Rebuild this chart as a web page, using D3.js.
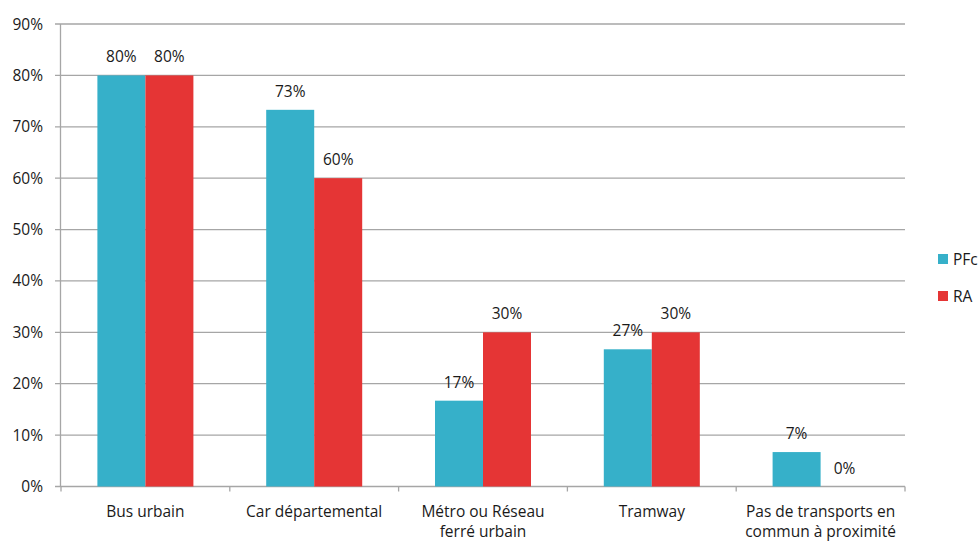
<!DOCTYPE html>
<html>
<head>
<meta charset="utf-8">
<script src="https://cdn.jsdelivr.net/npm/d3@7"></script>
<style>
  body { margin: 0; background: #fff; }
  text { font-family: "Open Sans", "Noto Sans", sans-serif; fill: #1a1a1a; }
</style>
</head>
<body>
<svg width="980" height="541"></svg>
<script>
const categories = [
  ['Bus urbain'],
  ['Car départemental'],
  ['Métro ou Réseau', 'ferré urbain'],
  ['Tramway'],
  ['Pas de transports en', 'commun à proximité']
];
const seriesNames = ['PFc', 'RA'];
const pfc = [80, 73.3, 16.7, 26.7, 6.7];
const ra = [80, 60, 30, 30, 0];
const yTicks = [0, 10, 20, 30, 40, 50, 60, 70, 80, 90];

const colors = ['#36b0c9', '#e53535'];
const fs = 15.5;

const svg = d3.select('svg');

const x0 = 61, x1 = 905, yBottom = 486.5, yTop = 24;

const x = d3.scaleBand()
  .domain(d3.range(categories.length))
  .range([x0, x1]);

const xInner = d3.scaleBand()
  .domain(seriesNames)
  .range([0, 96]);

const y = d3.scaleLinear()
  .domain([0, 90])
  .range([yBottom, yTop]);

// gridlines
svg.append('g')
  .selectAll('line')
  .data(yTicks)
  .enter().append('line')
    .attr('x1', 55)
    .attr('x2', x1)
    .attr('y1', d => y(d))
    .attr('y2', d => y(d))
    .attr('stroke', '#a6a6a6')
    .attr('stroke-width', 1.3);

// y tick labels
svg.append('g')
  .selectAll('text')
  .data(yTicks)
  .enter().append('text')
    .attr('x', 43)
    .attr('y', d => y(d) + 5.5)
    .attr('text-anchor', 'end')
    .attr('font-size', fs)
    .text(d => d + '%');

// y axis line
svg.append('line')
  .attr('x1', x0 - 0.5).attr('x2', x0 - 0.5)
  .attr('y1', yTop).attr('y2', yBottom)
  .attr('stroke', '#a6a6a6').attr('stroke-width', 1.3);

// x axis ticks
svg.append('g')
  .selectAll('line')
  .data(d3.range(categories.length + 1))
  .enter().append('line')
    .attr('x1', d => x0 + d * x.bandwidth())
    .attr('x2', d => x0 + d * x.bandwidth())
    .attr('y1', yBottom)
    .attr('y2', yBottom + 5)
    .attr('stroke', '#a6a6a6')
    .attr('stroke-width', 1.3);

const rows = categories.map((c, i) => ({ i, values: [pfc[i], ra[i]] }));

const groups = svg.selectAll('g.cat')
  .data(rows)
  .enter().append('g')
    .attr('class', 'cat')
    .attr('transform', d => `translate(${x(d.i) + (x.bandwidth() - 96) / 2}, 0)`);

groups.selectAll('rect')
  .data(d => d.values.map((v, k) => ({ v, name: seriesNames[k], k })))
  .enter().append('rect')
    .attr('x', d => xInner(d.name))
    .attr('width', xInner.bandwidth())
    .attr('y', d => y(d.v))
    .attr('height', d => yBottom - y(d.v))
    .attr('fill', d => colors[d.k]);

groups.selectAll('text.val')
  .data(d => d.values.map((v, k) => ({ v, name: seriesNames[k], k })))
  .enter().append('text')
    .attr('class', 'val')
    .attr('x', d => xInner(d.name) + xInner.bandwidth() / 2)
    .attr('y', d => y(d.v) - 13)
    .attr('text-anchor', 'middle')
    .attr('font-size', fs)
    .text(d => Math.round(d.v) + '%');

// category labels
svg.append('g')
  .selectAll('text')
  .data(categories)
  .enter().append('text')
    .attr('text-anchor', 'middle')
    .attr('font-size', fs)
    .attr('x', (d, i) => x(i) + x.bandwidth() / 2)
    .attr('y', 517)
    .selectAll('tspan')
    .data(d => d)
    .enter().append('tspan')
      .attr('x', function() { return this.parentNode.getAttribute('x'); })
      .attr('dy', (d, i) => i === 0 ? 0 : 20)
      .text(d => d);

// legend
const legend = svg.append('g')
  .selectAll('g')
  .data(seriesNames)
  .enter().append('g')
    .attr('transform', (d, i) => `translate(938, ${254 + i * 37})`);

legend.append('rect')
  .attr('width', 10)
  .attr('height', 10)
  .attr('fill', (d, i) => colors[i]);

legend.append('text')
  .attr('x', 15)
  .attr('y', 11)
  .attr('font-size', fs)
  .text(d => d);
</script>
</body>
</html>
